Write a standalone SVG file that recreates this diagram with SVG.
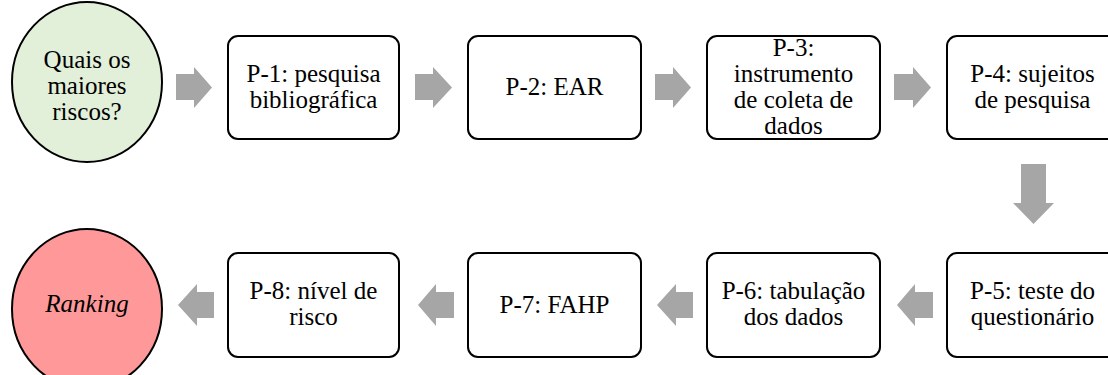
<svg xmlns="http://www.w3.org/2000/svg" width="1108" height="375" viewBox="0 0 1108 375">
  <style>
    .box { fill: #ffffff; stroke: #000000; stroke-width: 2; }
    .circ { stroke: #000000; stroke-width: 2; }
    .lbl { font-family: 'Liberation Serif', 'Times New Roman', Times, 'DejaVu Serif', serif; font-size: 25px; fill: #000000; text-anchor: middle; }
    .arrow { fill: #a6a6a6; }
  </style>
  <rect width="1108" height="375" fill="#ffffff"/>

  <!-- connectors: block arrows -->
  <g id="connectors">
    <!-- top row, pointing right -->
    <polygon class="arrow" points="176,74 194,74 194,67 212,87.5 194,108 194,100 176,100"/>
    <polygon class="arrow" points="415,74 433,74 433,67 452,87.5 433,108 433,100 415,100"/>
    <polygon class="arrow" points="655,74 673,74 673,67 691,87.5 673,108 673,100 655,100"/>
    <polygon class="arrow" points="894,74 913,74 913,67 931,87.5 913,108 913,100 894,100"/>
    <!-- turn down -->
    <polygon class="arrow" points="1021,164 1046,164 1046,203 1054,203 1033.5,224 1013,203 1021,203"/>
    <!-- bottom row, pointing left -->
    <polygon class="arrow" points="933,292 915,292 915,284 897,305 915,326 915,318 933,318"/>
    <polygon class="arrow" points="693,292 676,292 676,284 657,305 676,326 676,318 693,318"/>
    <polygon class="arrow" points="454,292 436,292 436,284 418,305 436,326 436,318 454,318"/>
    <polygon class="arrow" points="214,292 197,292 197,284 178,305 197,326 197,318 214,318"/>
  </g>

  <g id="start">
    <ellipse class="circ" cx="87" cy="82" rx="75" ry="80" fill="#e2efd9"/>
    <text class="lbl" x="87" y="68">Quais os</text>
    <text class="lbl" x="87" y="94">maiores</text>
    <text class="lbl" x="87" y="120">riscos?</text>
  </g>

  <g id="p1">
    <rect class="box" x="228" y="36" width="171" height="103" rx="10"/>
    <text class="lbl" x="313.5" y="82">P-1: pesquisa</text>
    <text class="lbl" x="313.5" y="108">bibliográfica</text>
  </g>

  <g id="p2">
    <rect class="box" x="468" y="36" width="173" height="103" rx="10"/>
    <text class="lbl" x="554.5" y="95">P-2: EAR</text>
  </g>

  <g id="p3">
    <rect class="box" x="707" y="36" width="173" height="103" rx="10"/>
    <text class="lbl" x="793.5" y="56">P-3:</text>
    <text class="lbl" x="793.5" y="82">instrumento</text>
    <text class="lbl" x="793.5" y="108">de coleta de</text>
    <text class="lbl" x="793.5" y="134">dados</text>
  </g>

  <g id="p4">
    <rect class="box" x="947" y="36" width="172" height="103" rx="10"/>
    <text class="lbl" x="1032.5" y="82">P-4: sujeitos</text>
    <text class="lbl" x="1032.5" y="108">de pesquisa</text>
  </g>

  <g id="p5">
    <rect class="box" x="947" y="253" width="172" height="104" rx="10"/>
    <text class="lbl" x="1032.5" y="299">P-5: teste do</text>
    <text class="lbl" x="1032.5" y="325">questionário</text>
  </g>

  <g id="p6">
    <rect class="box" x="707" y="253" width="173" height="104" rx="10"/>
    <text class="lbl" x="793.5" y="299">P-6: tabulação</text>
    <text class="lbl" x="793.5" y="325">dos dados</text>
  </g>

  <g id="p7">
    <rect class="box" x="468" y="253" width="173" height="104" rx="10"/>
    <text class="lbl" x="554.5" y="313">P-7: FAHP</text>
  </g>

  <g id="p8">
    <rect class="box" x="228" y="253" width="171" height="104" rx="10"/>
    <text class="lbl" x="313.5" y="299">P-8: nível de</text>
    <text class="lbl" x="313.5" y="325">risco</text>
  </g>

  <g id="ranking">
    <ellipse class="circ" cx="87" cy="309" rx="75" ry="80" fill="#ff9999"/>
    <text class="lbl" x="87" y="312" font-style="italic">Ranking</text>
  </g>
</svg>
